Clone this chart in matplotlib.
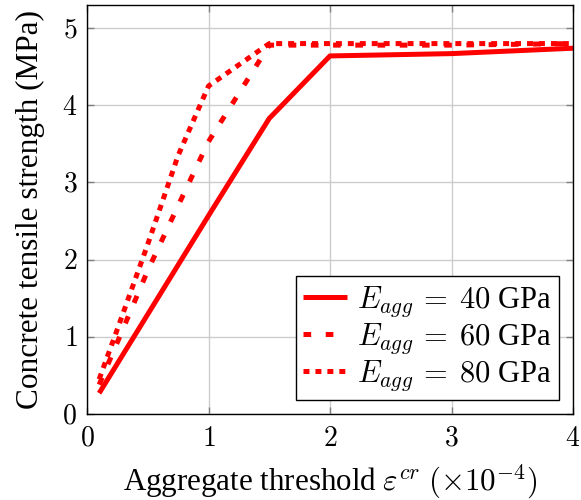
import matplotlib
matplotlib.use("Agg")
import matplotlib.pyplot as plt
from matplotlib.ticker import FuncFormatter

plt.rcParams['font.family'] = ['Liberation Serif', 'DejaVu Serif']
plt.rcParams['mathtext.fontset'] = 'cm'
plt.rcParams['lines.scale_dashes'] = False

# Data
x40 = [0.1, 1.0, 1.5, 2.0, 3.0, 4.0]
y40 = [0.27, 2.57, 3.83, 4.64, 4.67, 4.74]

x60 = [0.1, 0.25, 0.5, 0.75, 1.0, 1.5, 2.0, 3.0, 4.0]
y60 = [0.38, 0.93, 1.86, 2.70, 3.53, 4.78, 4.78, 4.78, 4.80]

x80 = [0.1, 0.25, 0.5, 0.75, 1.0, 1.5, 2.0, 3.0, 4.0]
y80 = [0.45, 1.10, 2.20, 3.35, 4.25, 4.80, 4.80, 4.80, 4.80]

labels = [r'$E_{agg}\,=\;40$ GPa', r'$E_{agg}\,=\;60$ GPa', r'$E_{agg}\,=\;80$ GPa']
xticks = [0, 1, 2, 3, 4]
yticks = [0, 1, 2, 3, 4, 5]

fig = plt.figure(figsize=(5.81, 5.0), dpi=100)
ax = fig.add_axes([87/581, 86/500, (573-87)/581, (414-5)/500])

red = '#ff0000'
lw = 3.6
ax.plot(x40, y40, color=red, lw=lw, linestyle='-', label=labels[0], solid_capstyle='butt')
ax.plot(x60, y60, color=red, lw=lw, linestyle=(0, (5.5, 10.5)), label=labels[1], dash_capstyle='butt')
ax.plot(x80, y80, color=red, lw=lw, linestyle=(0, (4.3, 4.3)), label=labels[2], dash_capstyle='butt')

ax.set_xlim(0, 4)
ax.set_ylim(0, 5.3)
ax.set_xticks(xticks)
ax.set_yticks(yticks)
fmt = FuncFormatter(lambda v, p: r'$%d$' % v)
ax.xaxis.set_major_formatter(fmt)
ax.yaxis.set_major_formatter(fmt)
ax.grid(True, color='#cccccc', lw=1.0)
ax.set_axisbelow(True)
ax.tick_params(direction='in', top=True, right=True, length=5, width=1, color='#808080',
               labelsize=20)
ax.tick_params(axis='x', pad=9)
ax.tick_params(axis='y', pad=7)
for s in ax.spines.values():
    s.set_linewidth(1.0)
    s.set_color('black')

ax.set_xlabel(r'Aggregate threshold $\varepsilon^{cr}$ $(\times 10^{-4})$', fontsize=22.3, labelpad=8)
ax.set_ylabel('Concrete tensile strength (MPa)', fontsize=22.5, labelpad=12)

leg = ax.legend(loc='lower right', fontsize=22, frameon=True, fancybox=False,
                edgecolor='black', framealpha=1, handlelength=1.45, handletextpad=0.3,
                borderpad=0.25, labelspacing=0.06, borderaxespad=0.45)
leg.get_frame().set_linewidth(1.0)

fig.savefig('out.png', dpi=100)
